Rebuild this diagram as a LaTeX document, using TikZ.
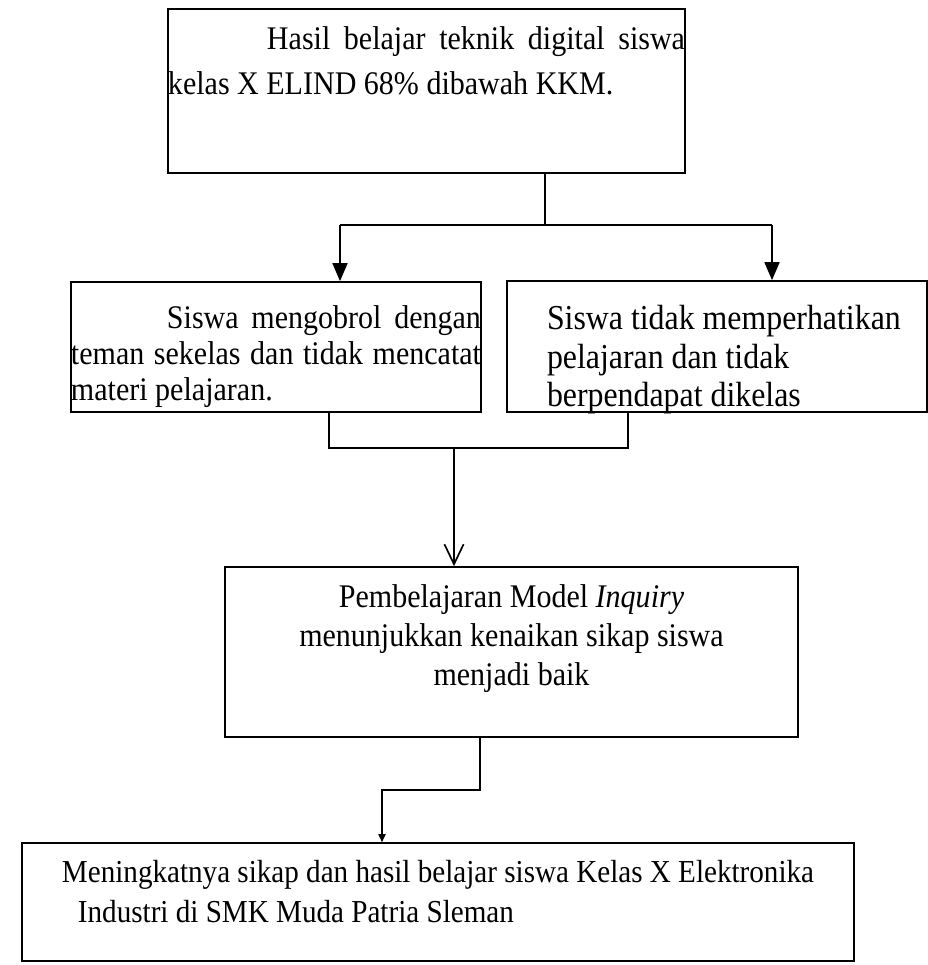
\documentclass[tikz,border=0pt]{standalone}
\usepackage{fontspec}
\setmainfont{Liberation Serif}[FakeStretch=0.91]
\usepackage{tikz}
\usetikzlibrary{positioning,calc,arrows.meta}

\begin{document}
\begin{tikzpicture}[
x=0.25mm, y=-0.25mm,
kotak/.style={rectangle, draw, line width=1.2pt, inner sep=0pt},
garis/.style={line width=1.2pt},
panah/.style={garis, -{Triangle[length=4.5mm,width=3.75mm]}},
panahbuka/.style={garis, -{Straight Barb[length=5mm,width=4.8mm]}},
panahkecil/.style={line width=0.9pt, -{Triangle[length=2mm,width=1.8mm]}}
]
	\useasboundingbox (0,0) rectangle (928,965);

	\node at (426.5,91) [kotak, font=\fontsize{8.25mm}{11.25mm}\selectfont] (hasil) {\parbox[c][41mm][t]{129.25mm}{\rule{0pt}{10.25mm}\hspace*{24.75mm}Hasil belajar teknik digital siswa\linebreak kelas X ELIND 68\% dibawah KKM.}};
	\node at (276,347) [kotak, font=\fontsize{8.25mm}{9mm}\selectfont] (ngobrol) {\parbox[c][32.5mm][t]{102.5mm}{\rule{0pt}{11.5mm}\hspace*{24mm}Siswa mengobrol dengan\linebreak teman sekelas dan tidak mencatat\linebreak materi pelajaran.}};
	\node at (717,346.5) [kotak, font=\fontsize{8.75mm}{9.6mm}\selectfont] (perhatian) {\parbox[c][32.75mm][t]{105mm}{\raggedright\rule{0pt}{12.25mm}\hspace*{10mm}Siswa tidak memperhatikan\\\hspace*{10mm}pelajaran dan tidak\\\hspace*{10mm}berpendapat dikelas}};
	\node at (511.5,652) [kotak, font=\fontsize{8.25mm}{9.75mm}\selectfont] (inquiry) {\parbox[c][42.5mm][t]{143.25mm}{\centering\rule{0pt}{10mm}Pembelajaran Model \textit{Inquiry}\\menunjukkan kenaikan sikap siswa\\menjadi baik}};
	\node at (438,902) [kotak, font=\fontsize{8mm}{10mm}\selectfont] (meningkat) {\parbox[c][29.5mm][t]{208mm}{\raggedright\rule{0pt}{9.75mm}\hspace*{10mm}Meningkatnya sikap dan hasil belajar siswa Kelas X Elektronika\\\hspace*{14mm}Industri di SMK Muda Patria Sleman}};

	\coordinate (cabang) at (545,225);
	\coordinate (cabangkiri) at (340,225);
	\coordinate (cabangkanan) at (772,225);
	\coordinate (gabungkiri) at (329,448);
	\coordinate (gabungkanan) at (628,448);
	\coordinate (gabung) at (454,448);
	\coordinate (belok) at (480,790);
	\coordinate (turun) at (382,790);

	\draw [garis] (hasil.south -| cabang) -- (cabang);
	\draw [garis] (cabangkiri) -- (cabangkanan);
	\draw [panah] (cabangkiri) -- (cabangkiri |- ngobrol.north);
	\draw [panah] (cabangkanan) -- (cabangkanan |- perhatian.north);

	\draw [garis] (ngobrol.south -| gabungkiri) -- (gabungkiri) -- (gabungkanan) -- (perhatian.south -| gabungkanan);
	\draw [panahbuka] (gabung) -- (gabung |- inquiry.north);

	\draw [panahkecil] (inquiry.south -| belok) -- (belok) -- (turun) -- (turun |- meningkat.north);

\end{tikzpicture}
\end{document}
